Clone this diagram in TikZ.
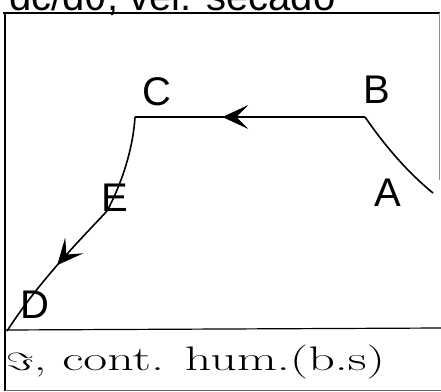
\documentclass[tikz,border=0pt]{standalone}
\usepackage{graphicx}
\usepackage{fontspec}
\setsansfont{Liberation Sans}
\usetikzlibrary{arrows.meta,decorations.markings}

\begin{document}
\begin{tikzpicture}[x=1pt, y=-1pt,
  lbl/.style={font=\sffamily\fontsize{40}{44}\selectfont, inner sep=0pt},
  frm/.style={draw=black, line width=1.2pt},
  crv/.style={draw=black, line width=1.6pt},
  midarr/.style={postaction={decorate}, decoration={markings,
    mark=at position #1 with {\arrow[line width=1.2pt]{Stealth[length=26pt, width=24pt, inset=12pt]}}}}]
\clip (0,0) rectangle (441,391);
% frame and axis
\draw[frm] (3,13) -- (440,13);
\draw[frm] (5,13) -- (5,391);
\draw[frm] (5,330) -- (441,328);
\draw[draw=black!45, line width=0.8pt] (439,13) -- (439,180);
\draw[draw=black!60, line width=0.8pt] (5,390) -- (441,390);
\node[lbl, anchor=base west] (ttl) at (9,10) {dc/dθ, vel. secado};
\node[anchor=base west, inner sep=0pt] (xlab) at (6,370)
  {\scalebox{1.53}[1]{\fontsize{34}{40}\selectfont $\Im$, cont. hum.(b.s)}};
% drying path
\coordinate (A) at (433,193);
\coordinate (B) at (365,117);
\coordinate (C) at (135,117);
\coordinate (E) at (107,211);
\coordinate (D) at (7,331);
\draw[crv] (A) .. controls (405,170) and (383,143) .. (B);
\draw[crv, midarr=0.62] (B) -- (C);
\draw[crv] (C) .. controls (133,150) and (121,185) .. (E);
\draw[crv, midarr=0.47] (E) .. controls (80,240) and (40,280) .. (D);
\node[lbl] (lA) at (388,193) {A};
\node[lbl] (lB) at (377,90) {B};
\node[lbl] (lC) at (157,92) {C};
\node[lbl] (lE) at (115,198) {E};
\node[lbl] (lD) at (35,305) {D};
\end{tikzpicture}
\end{document}
